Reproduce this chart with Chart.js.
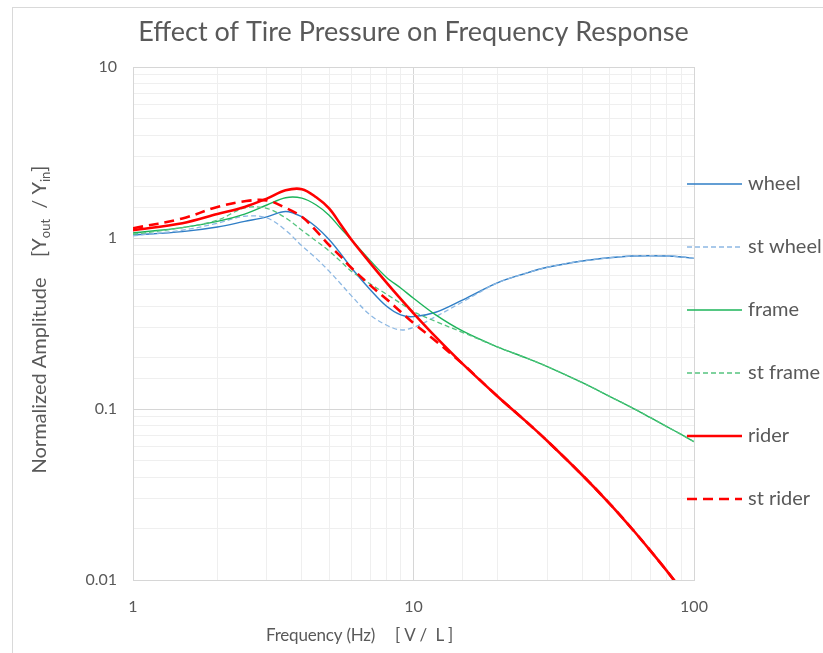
<!DOCTYPE html>
<html>
<head>
<meta charset="utf-8">
<script src="https://cdn.jsdelivr.net/npm/chart.js@4.4.1/dist/chart.umd.min.js"></script>
<style>
  html, body { margin: 0; padding: 0; background: #fff; overflow: hidden; }
  #frame { position: absolute; left: 12px; top: 7px; width: 860px; height: 660px; border: 1px solid #d9d9d9; }
</style>
</head>
<body>
<div id="frame"><canvas id="chart" width="860" height="660"></canvas></div>
<script>
// Frequencies (Hz) and normalized amplitudes
const freq    = [1, 1.5, 2, 2.5, 3, 3.5, 4, 4.5, 5, 5.5, 6, 7, 8, 9, 10, 12, 15, 20, 25, 30, 40, 50, 60, 70, 80, 90, 100];
const wheel   = [1.04, 1.09, 1.16, 1.25, 1.33, 1.43, 1.33, 1.16, 0.98, 0.81, 0.67, 0.50, 0.40, 0.355, 0.347, 0.368, 0.435, 0.548, 0.62, 0.674, 0.734, 0.767, 0.785, 0.788, 0.785, 0.775, 0.76];
const stWheel = [1.03, 1.11, 1.22, 1.34, 1.31, 1.11, 0.90, 0.76, 0.64, 0.54, 0.46, 0.355, 0.31, 0.29, 0.30, 0.347, 0.424, 0.548, 0.62, 0.674, 0.734, 0.767, 0.785, 0.788, 0.785, 0.775, 0.76];
const frame   = [1.07, 1.15, 1.25, 1.38, 1.56, 1.72, 1.71, 1.56, 1.36, 1.14, 0.98, 0.74, 0.59, 0.51, 0.444, 0.355, 0.285, 0.23, 0.20, 0.177, 0.1425, 0.1186, 0.102, 0.089, 0.0789, 0.071, 0.0644];
const stFrame = [1.05, 1.15, 1.27, 1.50, 1.49, 1.31, 1.11, 0.96, 0.84, 0.73, 0.64, 0.54, 0.47, 0.415, 0.371, 0.325, 0.28, 0.23, 0.20, 0.177, 0.1425, 0.1186, 0.102, 0.089, 0.0789, 0.071, 0.0644];
const rider   = [1.11, 1.22, 1.38, 1.52, 1.70, 1.90, 1.93, 1.73, 1.49, 1.20, 0.98, 0.716, 0.55, 0.44, 0.363, 0.264, 0.183, 0.118, 0.0855, 0.065, 0.041, 0.028, 0.020, 0.0148, 0.0113, 0.0088, 0.0071];
const stRider = [1.14, 1.30, 1.52, 1.64, 1.66, 1.50, 1.33, 1.10, 0.91, 0.78, 0.67, 0.53, 0.44, 0.37, 0.318, 0.25, 0.183, 0.118, 0.0855, 0.065, 0.041, 0.028, 0.020, 0.0148, 0.0113, 0.0088, 0.0071];

const xTickLabels = [1, 10, 100];
const yTickLabels = [0.01, 0.1, 1, 10];

const textColor = '#595959';
const fontFamily = 'Lato, "Open Sans", sans-serif';

function pts(values) {
  return freq.map((f, i) => ({ x: f, y: values[i] }));
}

function isDecade(v, list) {
  return list.some(t => Math.abs(v - t) < t * 1e-6);
}

function series(label, values, color, width, dash, order) {
  return {
    label: label,
    data: pts(values),
    borderColor: color,
    backgroundColor: color,
    borderWidth: width,
    borderDash: dash,
    pointRadius: 0,
    tension: 0.35,
    fill: false,
    order: order
  };
}

// Axis titles (with subscripts) and the legend are drawn by hand
const extraText = {
  id: 'extraText',
  afterDraw(chart) {
    const { ctx, chartArea } = chart;
    ctx.save();
    ctx.fillStyle = textColor;
    ctx.textBaseline = 'middle';

    // x axis title
    ctx.font = '17px ' + fontFamily;
    ctx.letterSpacing = '-0.2px';
    ctx.textAlign = 'left';
    ctx.fillText('Frequency (Hz)', chartArea.left + 133, chartArea.bottom + 56);
    ctx.fillText('[ V /  L ]', chartArea.left + 262, chartArea.bottom + 56);

    // y axis title, rotated
    const parts = [
      ['Normalized Amplitude    [Y', false],
      ['out', true],
      ['  / Y', false],
      ['in', true],
      [']', false]
    ];
    const bigFont = '20px ' + fontFamily;
    const smallFont = '13px ' + fontFamily;
    ctx.letterSpacing = '0px';
    let total = 0;
    parts.forEach(p => { ctx.font = p[1] ? smallFont : bigFont; total += ctx.measureText(p[0]).width; });
    ctx.translate(27, (chartArea.top + chartArea.bottom) / 2 - 4);
    ctx.rotate(-Math.PI / 2);
    let pos = -total / 2;
    parts.forEach(p => {
      ctx.font = p[1] ? smallFont : bigFont;
      ctx.fillText(p[0], pos, p[1] ? 6 : 0);
      pos += ctx.measureText(p[0]).width;
    });
    ctx.setTransform(1, 0, 0, 1, 0, 0);

    // legend
    ctx.font = '20px ' + fontFamily;
    ctx.textAlign = 'left';
    chart.data.datasets.forEach((ds, i) => {
      const y = chartArea.top + 117 + i * 63;
      const x0 = chartArea.right - 7;
      ctx.strokeStyle = ds.borderColor;
      ctx.lineWidth = ds.borderWidth;
      ctx.setLineDash(ds.borderDash || []);
      ctx.beginPath();
      ctx.moveTo(x0, y);
      ctx.lineTo(x0 + 55, y);
      ctx.stroke();
      ctx.fillStyle = textColor;
      ctx.fillText(ds.label, x0 + 61, y);
    });
    ctx.restore();
  }
};

new Chart(document.getElementById('chart'), {
  type: 'line',
  data: {
    datasets: [
      series('wheel', wheel, '#2f7ec6', 1.4, [], 6),
      series('st wheel', stWheel, '#8db8e3', 1.3, [5, 3], 5),
      series('frame', frame, '#1db45a', 1.4, [], 4),
      series('st frame', stFrame, '#55c47f', 1.3, [5, 3], 3),
      series('rider', rider, '#ff0000', 2.6, [], 2),
      series('st rider', stRider, '#ff0000', 2.6, [10, 6], 1)
    ]
  },
  options: {
    responsive: false,
    animation: false,
    layout: { padding: { left: 0, top: 0, right: 179, bottom: 0 } },
    plugins: {
      legend: { display: false },
      tooltip: { enabled: false },
      title: {
        display: true,
        fullSize: false,
        text: 'Effect of Tire Pressure on Frequency Response',
        color: textColor,
        font: { family: fontFamily, size: 27, weight: 'normal' },
        padding: { top: 8, bottom: 18.6 }
      }
    },
    scales: {
      x: {
        type: 'logarithmic',
        min: 1,
        max: 100,
        afterFit: scale => { scale.height = 88; },
        grid: {
          drawTicks: false,
          color: ctx => isDecade(ctx.tick.value, xTickLabels) ? '#d6d6d6' : '#efefef'
        },
        border: { color: '#d6d6d6' },
        ticks: {
          autoSkip: false,
          maxRotation: 0,
          padding: 17,
          color: textColor,
          font: { family: fontFamily, size: 16 },
          callback: v => isDecade(v, xTickLabels) ? String(v) : ''
        }
      },
      y: {
        type: 'logarithmic',
        min: 0.01,
        max: 10,
        afterFit: scale => { scale.width = 120; },
        grid: {
          drawTicks: false,
          color: ctx => isDecade(ctx.tick.value, yTickLabels) ? '#d6d6d6' : '#efefef'
        },
        border: { color: '#d6d6d6' },
        ticks: {
          autoSkip: false,
          padding: 16,
          color: textColor,
          font: { family: fontFamily, size: 16 },
          callback: v => isDecade(v, yTickLabels) ? String(v) : ''
        }
      }
    }
  },
  plugins: [extraText]
});
</script>
</body>
</html>
